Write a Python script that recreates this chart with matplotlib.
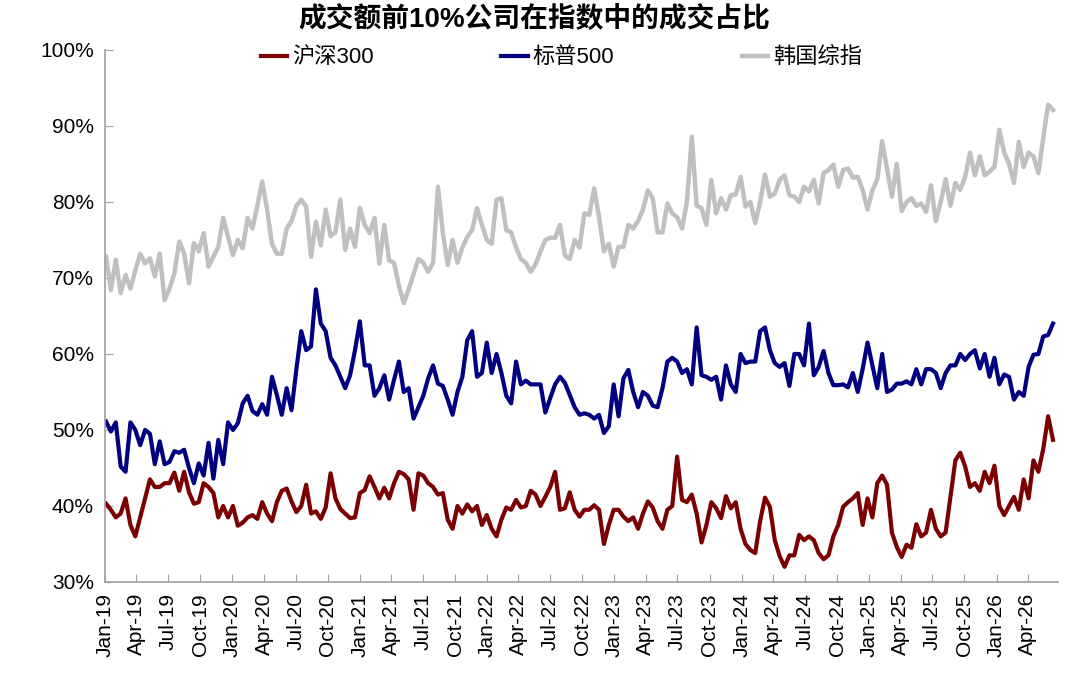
import numpy as np
import pandas as pd
import matplotlib
matplotlib.use('Agg')
from matplotlib import pyplot as plt
import matplotlib.dates as mdates
from matplotlib.ticker import FuncFormatter

plt.rcParams['font.family'] = ['Liberation Sans', 'Noto Sans CJK SC']

# biweekly observations, Jan 2019 .. Jun 2026
dates = pd.date_range('2019-01-04', periods=195, freq='14D')

kospi = [
    72.8, 68.4, 72.4, 68, 70.4, 68.6, 71, 73.2, 71.9, 72.6,
    70.2, 73.2, 67.1, 68.6, 70.6, 74.8, 73.2, 69.3, 74.6, 73.5,
    75.9, 71.5, 72.8, 74.1, 77.9, 75.4, 73, 75, 73.9, 77.9,
    76.5, 79.5, 82.7, 79, 74.5, 73.2, 73.2, 76.5, 77.5, 79.5,
    80.3, 79.4, 72.8, 77.4, 74.3, 79, 75.5, 76, 80.3, 73.7,
    76.5, 74.1, 79.2, 77, 75.9, 77.9, 71.9, 77, 72.3, 72,
    69, 66.7, 68.5, 70.5, 72.5, 72, 70.8, 72, 82, 76,
    71.7, 75, 72, 74, 75.4, 76.3, 79.2, 77, 75, 74.5,
    80.3, 80.5, 76.3, 76, 74, 72.5, 72, 70.8, 71.8, 73.5,
    75, 75.3, 75.3, 77, 73, 72.5, 75, 74, 78.5, 78.3,
    81.8, 78, 73.5, 74.5, 71.5, 74.1, 74.1, 77, 76.5, 77.5,
    79, 81.5, 80.5, 76, 76, 79.8, 78.5, 78, 76.5, 80,
    88.6, 79.5, 79.2, 77, 82.9, 78.5, 80.5, 79, 80.9, 81,
    83.3, 79.4, 80, 77.2, 80, 83.6, 80.7, 81.1, 82.9, 83.5,
    80.9, 80.7, 80, 82, 81.4, 82.9, 79.8, 83.8, 84.2, 84.9,
    82, 84.2, 84.4, 83.2, 83.3, 81.6, 79, 81.5, 83, 88,
    84.4, 80.7, 85, 78.8, 80, 80.5, 79.5, 79.8, 78.7, 82.2,
    77.5, 80, 83, 79.5, 82.5, 81.6, 83.3, 86.5, 83.5, 86,
    83.5, 84, 84.6, 89.5, 86.5, 85, 82.5, 87.9, 84.6, 86.5,
    86, 83.8, 88.4, 92.8, 92.1,
]

sp500 = [
    51.1, 49.8, 51, 45.2, 44.5, 51, 50, 48, 50, 49.5,
    45.5, 48.5, 45.5, 45.8, 47.2, 47, 47.4, 45, 43, 45.6,
    44, 48.3, 43.6, 48.7, 45.5, 51, 50, 50.9, 53.5, 54.5,
    52.5, 52, 53.4, 52, 57, 54.6, 52, 55.5, 52.6, 58,
    63, 60.5, 61, 68.5, 64, 63, 59.5, 58.5, 57, 55.5,
    57.2, 60.5, 64.3, 58.5, 58.5, 54.5, 55.5, 57.2, 54, 56.6,
    59, 55, 55.5, 51.5, 53, 54.5, 56.8, 58.5, 56.1, 55.8,
    54, 52, 55, 57, 61.8, 63, 57, 57.5, 61.5, 57.5,
    60, 57.5, 54.5, 53.5, 59, 56, 56.5, 56, 56, 56,
    52.3, 54.2, 56, 57, 56.2, 54.6, 53, 52, 52.2, 52,
    51.5, 52, 49.6, 50.5, 56, 51.8, 56.8, 57.9, 55, 53,
    55, 54.5, 53.2, 53, 55.5, 59, 59.5, 59, 57.5, 58,
    56, 63.5, 57.2, 57, 56.6, 57, 54, 58.5, 56, 55,
    60, 58.8, 59, 59, 63, 63.5, 60.5, 58.8, 58.3, 58.8,
    55.8, 60, 60, 58.5, 64, 57.2, 58.3, 60.4, 57.5, 55.9,
    55.9, 56, 55.6, 57.5, 55, 58, 61.5, 58.5, 55.5, 60,
    55, 55.3, 56.1, 56.1, 56.4, 56, 58, 56, 58, 58,
    57.5, 55.5, 57.5, 58.5, 58.5, 60, 59.2, 60, 60.5, 58.1,
    60, 57, 59.5, 56, 57.3, 57, 54, 55, 54.5, 58.3,
    59.9, 60, 62.3, 62.5, 64,
]

csi300 = [
    40.3, 39.5, 38.5, 39, 41, 37.5, 36, 38.5, 41, 43.5,
    42.5, 42.5, 43, 43, 44.4, 42, 44.5, 41.8, 40.3, 40.5,
    43, 42.5, 41.7, 38.5, 40, 38.5, 40, 37.4, 37.8, 38.5,
    38.8, 38.3, 40.5, 39, 38, 40.5, 42, 42.3, 40.6, 39.2,
    40, 42.8, 39, 39.3, 38.3, 39.8, 44.3, 41, 39.6, 39,
    38.4, 38.5, 41.7, 42.1, 43.9, 42.5, 41, 42.4, 41, 43,
    44.5, 44.2, 43.5, 39.5, 44.3, 44, 43, 42.5, 41.5, 41.7,
    38.2, 37, 40, 39, 40.2, 39.3, 40, 37.5, 38.8, 37,
    36, 38.2, 39.8, 39.5, 40.8, 39.8, 40, 42, 41.5, 40,
    41.2, 42.5, 44.5, 39.5, 39.7, 41.8, 39.5, 38.6, 39.5, 39.5,
    40.1, 39.5, 35, 37.5, 39.5, 39.5, 38.6, 38, 38.5, 37,
    39, 40.6, 39.8, 38, 37, 39.5, 40, 46.5, 40.8, 40.5,
    41.5, 39, 35.2, 37.5, 40.5, 39.7, 38.4, 41.3, 39.7, 40.5,
    37, 35, 34.2, 33.8, 38, 41.1, 39.9, 35.5, 33.4, 32,
    33.5, 33.5, 36.2, 35.5, 36, 35.5, 33.8, 33, 33.5, 36,
    37.5, 39.9, 40.5, 41, 41.7, 37.5, 41, 38.5, 43, 44,
    42.8, 36.5, 34.6, 33.3, 34.9, 34.5, 37.6, 36, 36.5, 39.5,
    37, 36, 36.5, 41.3, 46, 47, 45.2, 42.5, 43, 42,
    44.5, 43, 45.3, 40, 38.8, 40, 41.2, 39.5, 43.5, 41,
    46, 44.5, 47.5, 51.8, 48.7,
]

names = ['沪深300', '标普500', '韩国综指']
colors = ['#7b0000', '#000080', '#c0c0c0']

fig = plt.figure(figsize=(10.8, 6.81), dpi=100)
ax = fig.add_axes([0.0972, 0.1454, 0.882, 0.7812])

ax.plot(dates, csi300, color=colors[0], lw=3.0, label=names[0])
ax.plot(dates, sp500, color=colors[1], lw=3.0, label=names[1])
ax.plot(dates, kospi, color=colors[2], lw=3.2, label=names[2])

ax.set_ylim(30, 100)
ax.set_yticks(np.arange(30, 101, 10))
ax.yaxis.set_major_formatter(FuncFormatter(lambda v, p: '%d%%' % v))

ticks = pd.date_range('2019-01-01', '2026-04-01', freq='QS')
ax.set_xlim(pd.Timestamp('2019-01-01'), pd.Timestamp('2026-06-25'))
ax.set_xticks(ticks)
ax.xaxis.set_major_formatter(mdates.DateFormatter('%b-%y'))
plt.setp(ax.get_xticklabels(), rotation=90, ha='center')

for s in ['top', 'right']:
    ax.spines[s].set_visible(False)
for s in ['left', 'bottom']:
    ax.spines[s].set_color('#a0a0a0')
    ax.spines[s].set_linewidth(1.2)
ax.tick_params(direction='in', length=6, color='#a0a0a0', labelsize=15, pad=8)

ax.legend(loc='center', bbox_to_anchor=(0.479, 0.985), ncol=3, frameon=False,
          fontsize=16, handlelength=1.2, handletextpad=0.2, columnspacing=5.75)

fig.text(0.495, 0.972, '成交额前10%公司在指数中的成交占比', ha='center', va='center',
         fontsize=20, fontweight='bold')

fig.savefig('out.png', dpi=100)
